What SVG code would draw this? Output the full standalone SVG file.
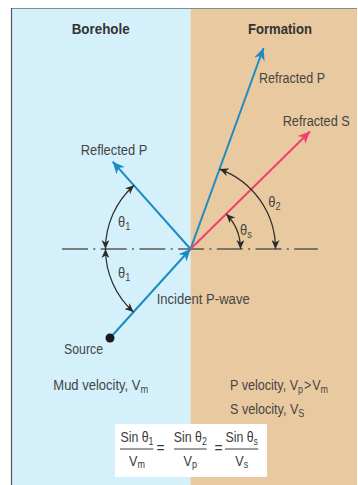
<svg xmlns="http://www.w3.org/2000/svg" width="358" height="485" viewBox="0 0 358 485">
<style>
.t{font-family:"Liberation Sans",Arial,sans-serif;fill:#454545;font-size:14px}
.b{font-family:"Liberation Sans",Arial,sans-serif;fill:#333;font-size:14.5px;font-weight:bold}
.f{font-family:"Liberation Sans",Arial,sans-serif;fill:#3a3a3a;font-size:14px}
.s{font-size:10px}
.blue{stroke:#1b8cc2;stroke-width:2;fill:none}
.pink{stroke:#f0416e;stroke-width:2;fill:none}
.arc{stroke:#2a2a2a;stroke-width:1.2;fill:none}
.frac{stroke:#3a3a3a;stroke-width:1}
</style>
<defs>
<marker id="ab" markerUnits="userSpaceOnUse" markerWidth="14" markerHeight="12" viewBox="0 0 14 12" refX="12" refY="6" orient="auto">
<path d="M0,0.5 L12,6 L0,11.5 L3.5,6 z" fill="#1b8cc2"/>
</marker>
<marker id="ap" markerUnits="userSpaceOnUse" markerWidth="14" markerHeight="12" viewBox="0 0 14 12" refX="12" refY="6" orient="auto">
<path d="M0,0.5 L12,6 L0,11.5 L3.5,6 z" fill="#f0416e"/>
</marker>
<marker id="ak" markerUnits="userSpaceOnUse" markerWidth="10" markerHeight="8" viewBox="0 0 10 8" refX="9" refY="4" orient="auto-start-reverse">
<path d="M0,0 L9,4 L0,8 L2.5,4 z" fill="#2a2a2a"/>
</marker>
</defs>

<g id="background">
<rect x="11" y="8" width="179.5" height="477" fill="#d4f0fb"/>
<rect x="190.5" y="8" width="166.5" height="477" fill="#e9c9a0"/>
<line x1="11" y1="8.5" x2="357" y2="8.5" stroke="#8a8a8a" stroke-width="1"/>
<line x1="11.5" y1="8" x2="11.5" y2="485" stroke="#555" stroke-width="1.2"/>
</g>

<g id="titles">
<text class="b" x="71.7" y="33.5" textLength="58" lengthAdjust="spacingAndGlyphs">Borehole</text>
<text class="b" x="248" y="33.5" textLength="64" lengthAdjust="spacingAndGlyphs">Formation</text>
</g>

<g id="normal">
<line x1="62" y1="249" x2="318" y2="249" stroke="#5a5a5a" stroke-width="1.5" stroke-dasharray="26 5.3 2 5.4"/>
</g>

<g id="connectors">
<line id="incident" class="blue" x1="110" y1="338" x2="190.5" y2="249" marker-end="url(#ab)"/>
<line id="reflected" class="blue" x1="190.5" y1="249" x2="112.7" y2="161.7" marker-end="url(#ab)"/>
<line id="refractedP" class="blue" x1="190.5" y1="249" x2="263.5" y2="48" marker-end="url(#ab)"/>
<line id="refractedS" class="pink" x1="190.5" y1="249" x2="310" y2="131.5" marker-end="url(#ap)"/>
<path class="arc" d="M134.1,185.3 A85,85 0 0 0 105.5,249" marker-start="url(#ak)" marker-end="url(#ak)"/>
<path class="arc" d="M105.5,249 A85,85 0 0 0 133.5,312.1" marker-start="url(#ak)" marker-end="url(#ak)"/>
<path class="arc" d="M219.5,169.1 A85,85 0 0 1 275.5,249" marker-start="url(#ak)" marker-end="url(#ak)"/>
<path class="arc" d="M226.2,214 A50,50 0 0 1 240.5,249" marker-start="url(#ak)" marker-end="url(#ak)"/>
</g>

<g id="source">
<circle cx="110" cy="338" r="4.5" fill="#1a1a1a"/>
<text class="t" x="64" y="353.5" textLength="39" lengthAdjust="spacingAndGlyphs">Source</text>
</g>

<g id="labels">
<text class="t" x="259" y="83" textLength="66" lengthAdjust="spacingAndGlyphs">Refracted P</text>
<text class="t" x="282.7" y="126" textLength="67" lengthAdjust="spacingAndGlyphs">Refracted S</text>
<text class="t" x="80.7" y="155" textLength="66.6" lengthAdjust="spacingAndGlyphs">Reflected P</text>
<text class="t" x="156.7" y="303.5" textLength="93" lengthAdjust="spacingAndGlyphs">Incident P-wave</text>
<text class="t" transform="translate(118,227) scale(0.92,1)">θ<tspan class="s" dy="3">1</tspan></text>
<text class="t" transform="translate(118,278.3) scale(0.92,1)">θ<tspan class="s" dy="3">1</tspan></text>
<text class="t" transform="translate(268.3,206.7) scale(0.92,1)">θ<tspan class="s" dy="3">2</tspan></text>
<text class="t" transform="translate(240,235) scale(0.92,1)">θ<tspan class="s" dy="3">s</tspan></text>
</g>

<g id="velocities">
<text class="t" transform="translate(53.3,390) scale(0.93,1)">Mud velocity, V<tspan class="s" dy="3">m</tspan></text>
<text class="t" transform="translate(230,390) scale(0.9,1)">P velocity, V<tspan class="s" dy="3">p</tspan><tspan dy="-3" dx="1">&gt;</tspan><tspan dx="1">V</tspan><tspan class="s" dy="3">m</tspan></text>
<text class="t" transform="translate(230,413.5) scale(0.9,1)">S velocity, V<tspan class="s" dy="3">S</tspan></text>
</g>

<g id="formula">
<rect x="115" y="424" width="152" height="53" fill="#ffffff"/>
<text class="f" text-anchor="middle" transform="translate(137,441.7) scale(0.88,1)">Sin θ<tspan class="s" dy="3">1</tspan></text>
<line class="frac" x1="120" y1="449" x2="153.3" y2="449"/>
<text class="f" text-anchor="middle" transform="translate(137,466) scale(0.9,1)">V<tspan class="s" dy="2">m</tspan></text>
<text class="f" x="160.5" y="453" text-anchor="middle" font-size="11">=</text>
<text class="f" text-anchor="middle" transform="translate(190.3,441.7) scale(0.88,1)">Sin θ<tspan class="s" dy="3">2</tspan></text>
<line class="frac" x1="174" y1="449" x2="206.7" y2="449"/>
<text class="f" text-anchor="middle" transform="translate(190.3,466) scale(0.9,1)">V<tspan class="s" dy="2">p</tspan></text>
<text class="f" x="218.5" y="453" text-anchor="middle" font-size="11">=</text>
<text class="f" text-anchor="middle" transform="translate(241.7,441.7) scale(0.88,1)">Sin θ<tspan class="s" dy="3">s</tspan></text>
<line class="frac" x1="225" y1="449" x2="258.3" y2="449"/>
<text class="f" text-anchor="middle" transform="translate(241.7,466) scale(0.9,1)">V<tspan class="s" dy="2">s</tspan></text>
</g>
</svg>
